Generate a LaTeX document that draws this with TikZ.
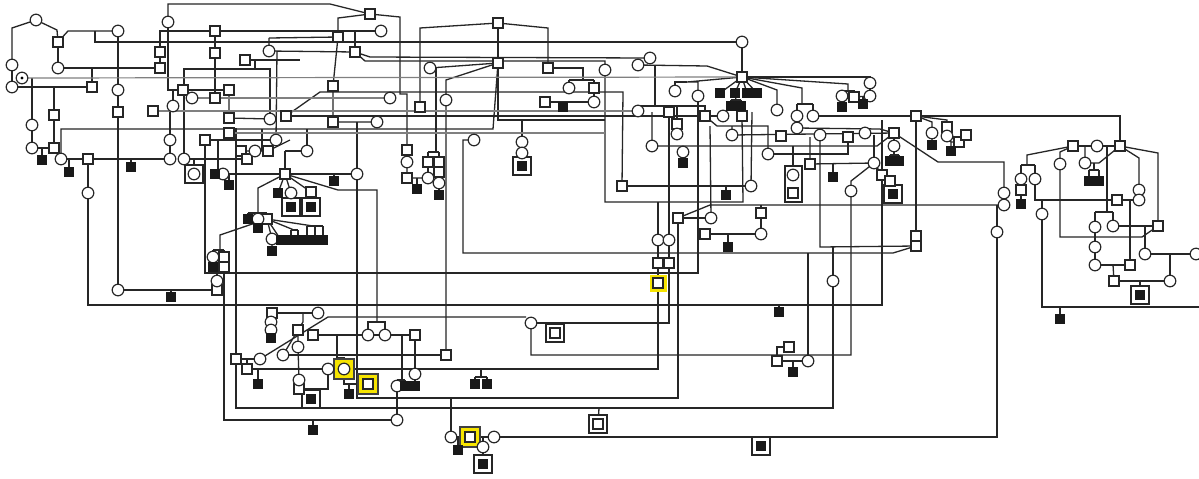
\documentclass[tikz,border=0pt]{standalone}
\definecolor{hl}{RGB}{246,228,0}
\pgfdeclarelayer{bgfill}
\pgfdeclarelayer{lines}
\pgfsetlayers{bgfill,lines,main}
\tikzset{
 sym/.style={draw=black!85, line width=0.6pt, fill=white, inner sep=0pt, outer sep=0pt},
 sq/.style={sym, rectangle, minimum size=5pt},
 ci/.style={sym, circle, minimum size=5.8pt},
 fs/.style={rectangle, fill=black!90, draw=black!90, line width=0.3pt, minimum size=4.6pt, inner sep=0pt, outer sep=0pt},
 bx/.style={sym, rectangle, minimum size=9pt},
 yl/.style={rectangle, fill=hl, minimum size=8.5pt, inner sep=0pt, outer sep=0pt},
 ylb/.style={yl, draw=black!75, line width=0.6pt, minimum size=10pt},
 ln/.style={line width=0.65pt, draw=black!85},
 gl/.style={line width=0.6pt, draw=black!50},
}
\newcommand\mSq[2]{\node[sq] (s#1x#2) at (#1,#2) {};}
\newcommand\mCi[2]{\node[ci] (c#1x#2) at (#1,#2) {};}
\newcommand\mFs[2]{\node[fs] (f#1x#2) at (#1,#2) {};}
\newcommand\mBx[2]{\node[bx] (b#1x#2) at (#1,#2) {};}
\newcommand\mYl[2]{\node[ylb] (y#1x#2) at (#1,#2) {};}
\begin{document}
\begin{tikzpicture}[x=0.5pt,y=-0.5pt]
\useasboundingbox (0,0) rectangle (1199,478);
\begin{pgfonlayer}{bgfill}
\fill[white] (0,0) rectangle (1199,478);
\end{pgfonlayer}
% ---------- boxes and highlights ----------
\mBx{194}{174}\mBx{291}{207}\mBx{311}{207}\mBx{522}{166}\mBx{893}{194}
\mBx{555}{333}\mBx{598}{424}\mBx{761}{446}\mBx{483}{464}\mBx{311}{399}\mBx{1140}{295}
\node[sym, rectangle, minimum width=8.5pt, minimum height=18pt] (tallbox) at (793.5,184) {};
\mYl{470}{437}\mYl{368}{384}\mYl{344}{369}
\node[yl] (y658x283) at (658,283) {};
% ---------- squares ----------
\mSq{58}{42}\mSq{92}{87}\mSq{54}{115}\mSq{54}{148}\mSq{88}{159}\mSq{118}{112}
\mSq{160}{52}\mSq{160}{68}\mSq{215}{31}\mSq{215}{53}\mSq{215}{98}\mSq{183}{90}
\mSq{229}{90}\mSq{245}{60}\mSq{153}{111}\mSq{229}{118}\mSq{286}{116}\mSq{229}{133}
\mSq{205}{140}\mSq{241}{151}\mSq{268}{151}\mSq{247}{159}\mSq{267}{219}\mSq{285}{174}
\mSq{311}{192}\mSq{224}{257}\mSq{224}{267}\mSq{217}{290}\mSq{370}{14}\mSq{338}{37}
\mSq{355}{52}\mSq{333}{86}\mSq{333}{122}\mSq{420}{107}\mSq{498}{23}\mSq{498}{63}
\mSq{548}{68}\mSq{594}{88}\mSq{545}{102}\mSq{407}{150}\mSq{407}{178}\mSq{428}{162}
\mSq{439}{162}\mSq{439}{172}\mSq{669}{112}\mSq{705}{116}\mSq{742}{116}\mSq{677}{124}
\mSq{742}{77}\mSq{854}{97}\mSq{781}{136}\mSq{848}{137}\mSq{894}{133}\mSq{810}{164}
\mSq{882}{175}\mSq{890}{181}\mSq{793}{193}\mSq{622}{186}\mSq{916}{116}\mSq{947}{127}
\mSq{959}{142}\mSq{966}{135}\mSq{916}{236}\mSq{916}{246}\mSq{678}{218}\mSq{705}{234}
\mSq{761}{213}\mSq{1073}{146}\mSq{1120}{146}\mSq{1021}{190}\mSq{1117}{200}\mSq{1158}{226}
\mSq{1130}{265}\mSq{1114}{281}\mSq{272}{313}\mSq{298}{330}\mSq{313}{335}\mSq{415}{335}
\mSq{236}{359}\mSq{247}{369}\mSq{299}{389}\mSq{446}{355}\mSq{789}{347}\mSq{777}{361}
\mSq{658}{263}\mSq{669}{263}\mSq{555}{333}\mSq{598}{424}\mSq{470}{437}\mSq{368}{384}
\mSq{658}{283}
% ---------- circles ----------
\mCi{36}{20}\mCi{12}{65}\mCi{12}{87}\mCi{58}{68}\mCi{22}{78}\mCi{118}{31}\mCi{118}{90}
\mCi{32}{125}\mCi{32}{148}\mCi{61}{159}\mCi{170}{140}\mCi{170}{159}\mCi{173}{106}
\mCi{88}{193}\mCi{118}{290}\mCi{168}{22}\mCi{269}{51}\mCi{192}{98}\mCi{270}{119}
\mCi{276}{140}\mCi{184}{159}\mCi{194}{174}\mCi{223}{174}\mCi{255}{151}\mCi{307}{151}
\mCi{291}{193}\mCi{258}{219}\mCi{272}{239}\mCi{213}{257}\mCi{217}{281}\mCi{357}{174}
\mCi{381}{31}\mCi{390}{98}\mCi{377}{122}\mCi{430}{68}\mCi{446}{100}\mCi{474}{140}
\mCi{569}{88}\mCi{594}{102}\mCi{407}{162}\mCi{428}{178}\mCi{439}{183}\mCi{522}{142}
\mCi{522}{153}\mCi{742}{42}\mCi{650}{58}\mCi{638}{65}\mCi{605}{70}\mCi{675}{91}
\mCi{698}{96}\mCi{777}{110}\mCi{797}{116}\mCi{813}{116}\mCi{797}{128}\mCi{842}{96}
\mCi{870}{96}\mCi{870}{83}\mCi{638}{111}\mCi{723}{116}\mCi{677}{134}\mCi{732}{135}
\mCi{652}{146}\mCi{683}{152}\mCi{820}{135}\mCi{865}{133}\mCi{894}{146}\mCi{768}{154}
\mCi{874}{163}\mCi{851}{191}\mCi{751}{186}\mCi{793}{175}\mCi{932}{133}\mCi{947}{136}
\mCi{711}{218}\mCi{761}{234}\mCi{658}{240}\mCi{669}{240}\mCi{833}{281}\mCi{1004}{193}
\mCi{1004}{205}\mCi{997}{232}\mCi{1021}{179}\mCi{1035}{179}\mCi{1042}{214}\mCi{1060}{164}
\mCi{1085}{163}\mCi{1097}{146}\mCi{1139}{190}\mCi{1139}{200}\mCi{1095}{227}\mCi{1113}{226}
\mCi{1095}{247}\mCi{1095}{265}\mCi{1145}{254}\mCi{1170}{281}\mCi{1196}{254}\mCi{271}{322}
\mCi{271}{330}\mCi{318}{313}\mCi{283}{355}\mCi{298}{347}\mCi{260}{359}\mCi{368}{335}
\mCi{385}{335}\mCi{328}{369}\mCi{344}{369}\mCi{299}{380}\mCi{397}{386}\mCi{415}{374}
\mCi{397}{420}\mCi{531}{323}\mCi{451}{437}\mCi{494}{437}\mCi{483}{447}\mCi{808}{361}
\fill[black] (c22x78) circle (1.6);
% ---------- filled ----------
\mFs{42}{160}\mFs{69}{172}\mFs{131}{167}\mFs{171}{297}\mFs{215}{174}\mFs{229}{185}
\mFs{278}{193}\mFs{291}{207}\mFs{311}{207}\mFs{334}{181}\mFs{248}{219}\mFs{258}{228}
\mFs{272}{251}\mFs{281}{240}\mFs{291}{240}\mFs{298}{240}\mFs{307}{240}\mFs{315}{240}
\mFs{323}{240}\mFs{213}{267}\mFs{417}{189}\mFs{439}{195}\mFs{563}{107}\mFs{522}{166}
\mFs{720}{93}\mFs{735}{93}\mFs{747}{93}\mFs{757}{93}\mFs{731}{106}\mFs{741}{106}
\mFs{842}{107}\mFs{863}{104}\mFs{683}{163}\mFs{726}{195}\mFs{833}{177}\mFs{890}{161}
\mFs{899}{161}\mFs{893}{194}\mFs{932}{145}\mFs{951}{151}\mFs{1089}{181}\mFs{1099}{181}
\mFs{1021}{204}\mFs{1060}{319}\mFs{1140}{295}\mFs{728}{247}\mFs{779}{312}\mFs{793}{372}
\mFs{258}{384}\mFs{311}{399}\mFs{349}{394}\mFs{405}{386}\mFs{415}{386}\mFs{475}{384}
\mFs{487}{384}\mFs{313}{430}\mFs{458}{450}\mFs{483}{464}\mFs{761}{446}\mFs{271}{338}
% ---------- connectors ----------
\begin{pgfonlayer}{lines}
\begin{scope}[every path/.style={ln}]
\draw (c12x65) -- (12,28) -- (c36x20) -- (57,30) -- (s58x42);
\draw (c12x65) -- (c12x87);
\draw (s58x42) -- (c58x68);
\draw (s58x42) -- (68,31) -- (c118x31);
\draw (95,31) -- (95,42) -- (c742x42);
\draw (c58x68) -- (s160x68);
\draw (92,68) -- (s92x87);
\draw (c12x87) -- (s92x87);
\draw (32,78) -- (c32x125) -- (c32x148) -- (s54x148);
\draw (42,148) -- (f42x160);
\draw (54,87) -- (s54x115) -- (s54x148);
\draw (c118x31) -- (c118x90) -- (s118x112) -- (c118x290) -- (s217x290);
\draw (171,290) -- (f171x297);
\draw (c61x159) -- (61,129) -- (493,129) -- (s498x63);
\draw (c61x159) -- (c170x159);
\draw (69,159) -- (f69x172);
\draw (131,159) -- (f131x167);
\draw (s88x159) -- (c88x193) -- (88,305) -- (882,305) -- (882,120);
\draw (c170x159) -- (c170x140) -- (170,110);
\draw (173,90) -- (c173x106);
\draw (c168x22) -- (168,4) -- (330,4) -- (s370x14);
\draw (c168x22) -- (168,90) -- (s183x90) -- (s229x90);
\draw (c184x159) -- (184,69) -- (270,69) -- (c270x119);
\draw (s160x68) -- (160,31) -- (s215x31) -- (c381x31);
\draw (s215x31) -- (s215x53) -- (s215x98);
\draw (s229x90) -- (s229x118) -- (c270x119);
\draw (s286x116) -- (320,92) -- (623,92) -- (s622x186);
\draw (s286x116) -- (s705x116);
\draw (s205x140) -- (c276x140);
\draw (s205x140) -- (205,273) -- (698,273) -- (c698x96);
\draw (236,128) -- (236,408) -- (833,408) -- (833,247);
\draw (c820x135) -- (820,247) -- (s916x246);
\draw (s241x151) -- (s268x151) -- (290,140);
\draw (262,129) -- (262,151);
\draw (c184x159) -- (s247x159);
\draw (269,38) -- (c269x51) -- (s355x52);
\draw (269,38) -- (s338x37);
\draw (s245x60) -- (300,60);
\draw (255,60) -- (255,68);
\draw (277,51) -- (c276x140);
\draw (307,129) -- (c307x151);
\draw (285,151) -- (c307x151);
\draw (285,151) -- (s285x174);
\draw (c223x174) -- (c357x174);
\draw (334,174) -- (f334x181);
\draw (229,174) -- (f229x185);
\draw (218,140) -- (218,174);
\draw (194,159) -- (c194x174);
\draw (s285x174) -- (258,188) -- (258,213);
\draw (248,213) -- (267,213);
\draw (248,213) -- (f248x219);
\draw (267,213) -- (s267x219);
\draw (c258x219) -- (f258x228);
\draw (s285x174) -- (f278x193);
\draw (s285x174) -- (c291x193) -- (f291x207);
\draw (s285x174) -- (s311x192) -- (f311x207);
\draw (s285x174) -- (338,190) -- (377,190) -- (377,322);
\draw (c368x335) -- (368,322) -- (385,322) -- (c385x335);
\draw (s267x219) -- (c272x239) -- (f272x251);
\draw (s267x219) -- (f281x240);
\draw (s267x219) -- (294,230);
\draw (291,230) -- (298,230);
\draw (291,230) -- (f291x240);
\draw (298,230) -- (f298x240);
\draw (s267x219) -- (313,226);
\draw (307,226) -- (323,226);
\draw (307,226) -- (f307x240);
\draw (315,226) -- (f315x240);
\draw (323,226) -- (f323x240);
\draw (s267x219) -- (220,235) -- (220,250);
\draw (213,250) -- (224,250);
\draw (213,250) -- (c213x257) -- (f213x267);
\draw (224,250) -- (s224x257) -- (s224x267) -- (224,420) -- (c397x420);
\draw (217,273) -- (c217x281) -- (s217x290);
\draw (313,420) -- (f313x430);
\draw (s370x14) -- (400,17) -- (400,94) -- (407,94) -- (s407x150) -- (c407x162) -- (s407x178) -- (c428x178);
\draw (417,178) -- (f417x189);
\draw (s370x14) -- (338,18) -- (s338x37) -- (s333x86) -- (s333x122) -- (c377x122);
\draw (355,31) -- (s355x52);
\draw (s355x52) -- (365,61) -- (605,61) -- (c605x70);
\draw (s355x52) -- (370,57) -- (c650x58);
\draw (c605x70) -- (605,202) -- (743,202) -- (s742x116);
\draw (357,122) -- (c357x174) -- (357,398) -- (678,398) -- (s678x218);
\draw (451,398) -- (c451x437);
\draw (s498x23) -- (420,28) -- (s420x107);
\draw (s498x23) -- (548,28) -- (s548x68);
\draw (s498x23) -- (s498x63) -- (498,120) -- (605,120);
\draw (c430x68) -- (s498x63);
\draw (436,68) -- (436,152);
\draw (428,152) -- (439,152);
\draw (428,152) -- (s428x162) -- (c428x178);
\draw (439,152) -- (s439x162) -- (s439x172) -- (c439x183) -- (f439x195);
\draw (s498x63) -- (446,80) -- (c446x100) -- (s446x355);
\draw (c283x355) -- (s446x355);
\draw (c474x140) -- (463,140) -- (463,253) -- (893,253) -- (s916x246);
\draw (522,120) -- (c522x142) -- (c522x153) -- (f522x166);
\draw (s548x68) -- (583,68) -- (583,80);
\draw (569,80) -- (594,80);
\draw (569,80) -- (c569x88);
\draw (594,80) -- (s594x88) -- (c594x102) -- (s545x102);
\draw (563,102) -- (f563x107);
\draw (c742x42) -- (s742x77);
\draw (s742x77) -- (870,77) -- (c870x83) -- (c870x96);
\draw (s742x77) -- (848,84) -- (848,91);
\draw (c842x96) -- (842,91) -- (854,91) -- (s854x97);
\draw (c842x96) -- (f842x107);
\draw (s854x97) -- (c870x96);
\draw (863,97) -- (f863x104);
\draw (s742x77) -- (707,66) -- (c638x65);
\draw (655,66) -- (655,106);
\draw (c638x111) -- (638,106) -- (705,106) -- (s705x116);
\draw (669,106) -- (s669x112);
\draw (677,106) -- (s677x124) -- (c677x134);
\draw (s742x77) -- (687,82) -- (698,82) -- (c698x96);
\draw (687,82) -- (675,82) -- (c675x91);
\draw (s742x77) -- (f720x93);
\draw (s742x77) -- (f735x93);
\draw (s742x77) -- (f747x93);
\draw (s742x77) -- (f757x93);
\draw (f735x93) -- (736,100);
\draw (731,100) -- (741,100);
\draw (731,100) -- (f731x106);
\draw (741,100) -- (f741x106);
\draw (s742x77) -- (777,90) -- (c777x110);
\draw (s742x77) -- (802,88) -- (802,104);
\draw (797,104) -- (813,104);
\draw (797,104) -- (c797x116) -- (c797x128);
\draw (813,104) -- (c813x116) -- (s916x116);
\draw (c797x128) -- (880,129) -- (s894x133);
\draw (s705x116) -- (c723x116);
\draw (s705x116) -- (717,126) -- (768,126) -- (c768x154);
\draw (c768x154) -- (848,154) -- (s848x137);
\draw (732,126) -- (c732x135) -- (s894x133);
\draw (652,112) -- (c652x146) -- (877,146) -- (s894x133);
\draw (683,146) -- (c683x152) -- (f683x163);
\draw (s894x133) -- (c894x146) -- (894,155);
\draw (890,155) -- (899,155);
\draw (890,155) -- (f890x161);
\draw (899,155) -- (f899x161);
\draw (810,137) -- (s810x164) -- (c874x163);
\draw (833,163) -- (f833x177);
\draw (874,135) -- (c874x163);
\draw (c874x163) -- (851,181) -- (c851x191) -- (851,355) -- (531,355) -- (c531x323);
\draw (c874x163) -- (s882x175) -- (s890x181) -- (f893x194);
\draw (793,146) -- (c793x175) -- (s793x193);
\draw (752,112) -- (c751x186);
\draw (s622x186) -- (c751x186);
\draw (726,186) -- (f726x195);
\draw (s678x218) -- (710,205) -- (c1004x205);
\draw (s678x218) -- (c711x218);
\draw (710,126) -- (c711x218);
\draw (s705x234) -- (c761x234);
\draw (728,234) -- (f728x247);
\draw (761,205) -- (s761x213) -- (c761x234);
\draw (658,202) -- (c658x240) -- (s658x263) -- (s658x283) -- (658,369) -- (c328x369);
\draw (s669x112) -- (c669x240) -- (s669x263) -- (669,323) -- (c531x323);
\draw (c260x359) -- (328,317) -- (526,317);
\draw (808,253) -- (c808x361) -- (s777x361);
\draw (s789x347) -- (777,347) -- (s777x361);
\draw (793,361) -- (f793x372);
\draw (779,305) -- (f779x312);
\draw (c1004x193) -- (1004,162) -- (938,162) -- (s894x133);
\draw (997,205) -- (c997x232) -- (997,437) -- (c494x437);
\draw (c451x437) -- (s470x437) -- (c494x437);
\draw (458,437) -- (f458x450);
\draw (483,437) -- (c483x447) -- (f483x464);
\draw (599,408) -- (s598x424);
\draw (761,437) -- (f761x446);
\draw (s916x116) -- (1120,116) -- (s1120x146);
\draw (s916x116) -- (s916x236) -- (s916x246);
\draw (s916x116) -- (932,122) -- (c932x133) -- (f932x145);
\draw (s916x116) -- (947,120) -- (s947x127) -- (c947x136) -- (951,142) -- (f951x151);
\draw (951,142) -- (s959x142) -- (s966x135);
\draw (s1073x146) -- (1027,155) -- (1027,165);
\draw (1021,165) -- (1035,165);
\draw (1021,165) -- (c1021x179) -- (s1021x190) -- (f1021x204);
\draw (1035,165) -- (c1035x179) -- (1035,200) -- (s1117x200) -- (c1139x200);
\draw (c1139x190) -- (1139,158) -- (s1120x146);
\draw (s1073x146) -- (1060,152) -- (c1060x164) -- (1060,237) -- (1142,237) -- (s1158x226);
\draw (s1073x146) -- (c1097x146) -- (s1120x146);
\draw (1085,146) -- (c1085x163) -- (1099,163) -- (s1120x146);
\draw (1094,163) -- (1094,170);
\draw (1089,170) -- (1099,170);
\draw (1089,170) -- (f1089x181);
\draw (1099,170) -- (f1099x181);
\draw (s1120x146) -- (1158,153) -- (s1158x226);
\draw (1107,146) -- (1107,212);
\draw (1095,212) -- (1113,212);
\draw (1095,212) -- (c1095x227) -- (c1095x247) -- (c1095x265) -- (s1130x265);
\draw (1113,212) -- (c1113x226) -- (s1158x226);
\draw (1145,226) -- (c1145x254) -- (1199,254);
\draw (1170,254) -- (c1170x281) -- (s1114x281);
\draw (1113,265) -- (s1114x281);
\draw (1140,281) -- (f1140x295);
\draw (1130,200) -- (s1130x265);
\draw (1042,200) -- (c1042x214) -- (1042,307) -- (1199,307);
\draw (1060,307) -- (f1060x319);
\draw (s272x313) -- (c318x313);
\draw (s272x313) -- (c271x322) -- (c271x330) -- (f271x338);
\draw (303,313) -- (303,322) -- (s298x330);
\draw (s298x330) -- (c298x347) -- (c299x380) -- (s299x389);
\draw (s298x330) -- (c283x355);
\draw (s236x359) -- (c260x359);
\draw (247,359) -- (s247x369) -- (c328x369);
\draw (258,369) -- (f258x384);
\draw (s313x335) -- (s415x335);
\draw (s415x335) -- (c415x374) -- (f415x386);
\draw (337,335) -- (337,358) -- (344,358) -- (c344x369);
\draw (c344x369) -- (344,384) -- (s368x384);
\draw (349,384) -- (f349x394);
\draw (s299x389) -- (328,389) -- (c328x369);
\draw (311,389) -- (f311x399);
\draw (402,335) -- (402,380);
\draw (397,380) -- (405,380);
\draw (397,380) -- (c397x386);
\draw (405,380) -- (f405x386);
\draw (c397x386) -- (c397x420);
\draw (481,369) -- (481,377);
\draw (475,377) -- (487,377);
\draw (475,377) -- (f475x384);
\draw (487,377) -- (f487x384);
\draw (555,323) -- (s555x333);
\end{scope}
\begin{scope}[every path/.style={gl}]
\draw (c22x78) -- (s742x77);
\draw (c192x98) -- (c390x98);
\draw (s153x111) -- (c638x111);
\draw (s229x133) -- (605,133);
\end{scope}
\end{pgfonlayer}
\end{tikzpicture}
\end{document}
